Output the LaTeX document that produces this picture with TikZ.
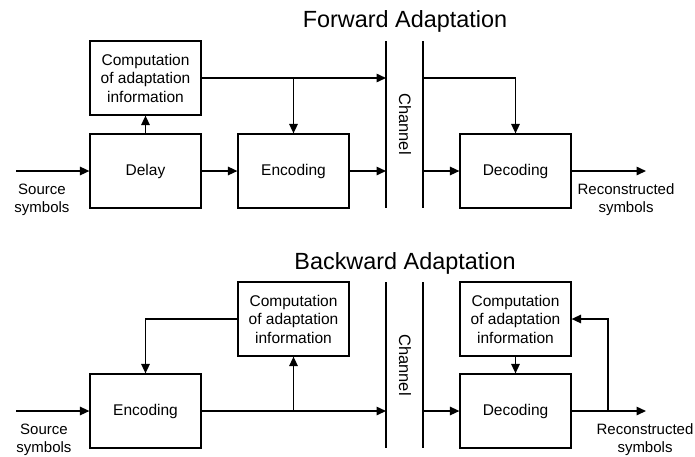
\documentclass[tikz,border=0pt]{standalone}
\usepackage{fontspec}
\setmainfont{Liberation Sans}
\usetikzlibrary{arrows.meta}
\begin{document}
\begin{tikzpicture}[x=1pt,y=-1pt,
  blk/.style={draw,line width=1.2pt,minimum width=111pt,minimum height=74pt,inner sep=0pt,
    font=\fontsize{15.5}{18.5}\selectfont,align=center},
  lbl/.style={font=\fontsize{15}{18}\selectfont,align=center,inner sep=0pt},
  ttl/.style={font=\fontsize{23.4}{26}\selectfont,inner sep=0pt},
  wire/.style={line width=1.5pt},
  arr/.style={wire,-{Triangle[length=9.5pt,width=8.5pt]}},
  chan/.style={line width=1.5pt}]
\useasboundingbox (0,0) rectangle (695,456);

% ---------------- forward adaptation ----------------
\node[ttl] (t1) at (405,21) {Forward Adaptation};
\node[blk] (fcomp) at (145.5,78) {Computation\\of adaptation\\information};
\node[blk] (fdelay) at (145.5,171) {Delay};
\node[blk] (fenc) at (293.5,171) {Encoding};
\node[blk] (fdec) at (515.5,171) {Decoding};
\coordinate (fchL1) at (386,41);
\coordinate (fchL2) at (386,208);
\coordinate (fchR1) at (423,41);
\coordinate (fchR2) at (423,208);
\draw[chan] (fchL1) -- (fchL2);
\draw[chan] (fchR1) -- (fchR2);
\node[font=\fontsize{16.5}{18}\selectfont,rotate=-90,inner sep=0pt] (fch) at (405,124) {Channel};

\coordinate (fsrc) at (16,171);
\coordinate (fout) at (646,171);
\node[lbl] (fsrclbl) at (42,200) {Source\\symbols};
\node[lbl] (foutlbl) at (626,200) {Reconstructed\\symbols};

\draw[arr] (fsrc) -- (fdelay.west);
\draw[arr] (fdelay) -- (fenc);
\draw[arr] (fdelay.north) -- (fcomp.south);
\coordinate (fsideL) at (386,78);
\coordinate (fsideR) at (423,78);
\coordinate (fbr) at (293.5,78);
\draw[arr] (fcomp.east) -- (fsideL);
\draw[arr] (fbr) -- (fenc.north);
\draw[arr] (fenc.east) -- (fenc.east -| fchL1);
\draw[arr] (fsideR) -| (fdec.north);
\draw[arr] (fdec.west -| fchR1) -- (fdec.west);
\draw[arr] (fdec.east) -- (fout);

% ---------------- backward adaptation ----------------
\node[ttl] (t2) at (405,263) {Backward Adaptation};
\node[blk] (bcomp) at (293.5,319) {Computation\\of adaptation\\information};
\node[blk] (benc) at (145.5,411) {Encoding};
\node[blk] (bcomp2) at (515.5,319) {Computation\\of adaptation\\information};
\node[blk] (bdec) at (515.5,411) {Decoding};
\coordinate (bchL1) at (386,282);
\coordinate (bchL2) at (386,448);
\coordinate (bchR1) at (423,282);
\coordinate (bchR2) at (423,448);
\draw[chan] (bchL1) -- (bchL2);
\draw[chan] (bchR1) -- (bchR2);
\node[font=\fontsize{16.5}{18}\selectfont,rotate=-90,inner sep=0pt] (bch) at (405,365) {Channel};

\coordinate (bsrc) at (16,411);
\coordinate (bout) at (646,411);
\coordinate (bfb) at (608,411);
\node[lbl] (bsrclbl) at (44,440) {Source\\symbols};
\node[lbl] (boutlbl) at (645,440) {Reconstructed\\symbols};

\draw[arr] (bsrc) -- (benc.west);
\draw[arr] (benc.east) -- (benc.east -| bchL1);
\draw[arr] (bcomp.south |- benc.east) -- (bcomp.south);
\draw[arr] (bcomp.west) -| (benc.north);
\draw[arr] (bdec.west -| bchR1) -- (bdec.west);
\draw[arr] (bcomp2.south) -- (bdec.north);
\draw[arr] (bdec.east) -- (bout);
\draw[arr] (bfb) |- (bcomp2.east);
\end{tikzpicture}
\end{document}
